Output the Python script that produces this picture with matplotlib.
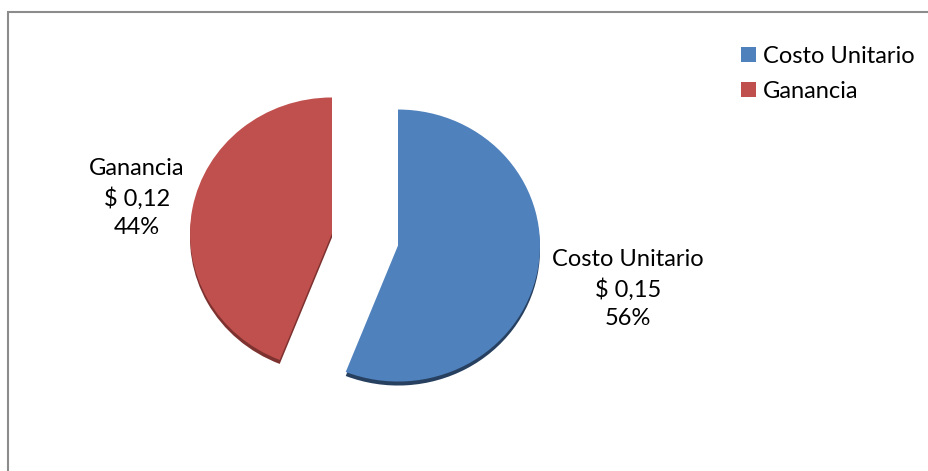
import numpy as np
import matplotlib
matplotlib.use("Agg")
import matplotlib.pyplot as plt
from matplotlib.patches import Patch, Rectangle

# data
categories = ["Costo Unitario", "Ganancia"]
costs = ["$ 0,15", "$ 0,12"]
pcts = [56, 44]
colors = ["#4F81BD", "#C0504D"]
dark = ["#27405f", "#7d3230"]

W, H = 929, 471
plt.rcParams['font.family'] = ['Lato', 'DejaVu Sans']
FS = 17

fig = plt.figure(figsize=(W / 100, H / 100), dpi=100)
ax = fig.add_axes([0, 0, 1, 1])
k = 136 / 142.0   # vertical squash of the tilted pie

cx, cy = 365, (H - 239.5) / k
r = 142
expl = [33.6, 33.6]

# depth edge (drawn underneath, shifted down a bit)
ax.pie(pcts, colors=dark, startangle=90, counterclock=False, radius=r,
       center=(cx, cy - 4 / k), explode=expl, frame=True,
       wedgeprops=dict(linewidth=0))
ax.pie(pcts, colors=colors, startangle=90, counterclock=False, radius=r,
       center=(cx, cy), explode=expl, frame=True,
       wedgeprops=dict(linewidth=0))
ax.set_aspect('auto')
ax.set_xlim(0, W)
ax.set_ylim(0, H / k)
ax.axis('off')

# data labels
label_pos = [(628, 289), (137, 198)]
for (px, py), cat, c, p in zip(label_pos, categories, costs, pcts):
    fig.text(px / W, 1 - py / H, "%s\n%s\n%d%%" % (cat, c, p),
             ha='center', va='center', fontsize=FS, linespacing=1.42,
             color='black')

# legend
handles = [Patch(facecolor=c, edgecolor='none') for c in colors]
fig.legend(handles, categories, loc='upper left',
           bbox_to_anchor=(741 / W, 1 - 46 / H), frameon=False,
           fontsize=FS, handlelength=0.62, handleheight=0.62,
           handletextpad=0.3, labelspacing=0.58, borderpad=0,
           borderaxespad=0)

# chart area border
fig.patches.append(Rectangle((8 / W, -0.05), 1.1, 1.05 - 12 / H,
                             transform=fig.transFigure, fill=False,
                             edgecolor='#8c8c8c', linewidth=1.5))

fig.savefig("out.png", dpi=100, facecolor='white')
